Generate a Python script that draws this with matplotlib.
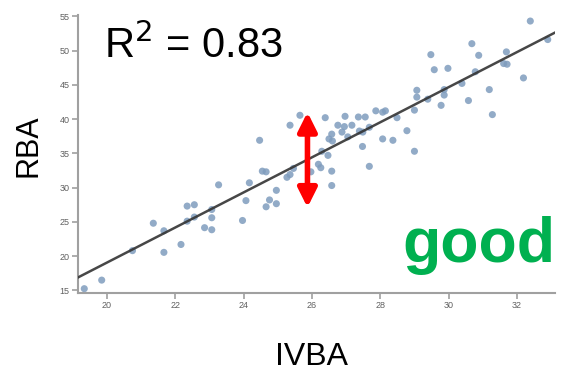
import numpy as np
from matplotlib import pyplot as plt

plt.rcParams['font.family'] = ['Liberation Sans', 'DejaVu Sans']

# scatter data
ivba = [19.34, 19.85, 20.75, 21.36, 21.67, 21.67, 22.17, 22.35, 22.35, 22.56,
        22.56, 22.86, 23.07, 23.07, 23.07, 23.27, 23.97, 24.07, 24.17, 24.55,
        24.66, 24.66, 24.76, 24.96, 24.96, 25.27, 25.36, 25.46, 24.47, 25.36,
        25.65, 26.39, 25.97, 26.19, 26.26, 26.58, 26.58, 26.47, 26.29, 26.50,
        26.58, 26.60, 26.76, 26.97, 26.95, 27.17, 26.88, 27.36, 27.56, 27.39,
        27.49, 27.68, 27.48, 27.68, 27.87, 28.07, 28.15, 28.07, 28.37, 27.05,
        28.49, 28.78, 29.00, 29.00, 29.07, 29.07, 29.39, 29.48, 29.58, 29.78,
        29.87, 29.87, 29.98, 30.39, 30.58, 30.68, 30.78, 30.88, 31.19, 31.28,
        31.61, 31.71, 31.69, 32.19, 32.39, 32.90]
rba  = [15.25, 16.5, 20.8, 24.8, 23.7, 20.55, 21.7, 27.3, 25.1, 27.5,
        25.7, 24.15, 26.8, 25.6, 23.85, 30.4, 25.2, 28.1, 30.7, 32.4,
        32.3, 27.2, 28.2, 29.6, 27.65, 31.5, 31.9, 32.8, 36.9, 39.1,
        40.55, 40.2, 32.3, 33.4, 32.9, 32.4, 30.3, 34.7, 35.3, 37.1,
        37.8, 36.8, 39.1, 40.4, 38.9, 39.1, 38.1, 40.3, 40.3, 38.25,
        38.1, 38.8, 36.0, 33.1, 41.2, 41.0, 41.2, 37.1, 36.9, 37.4,
        40.2, 38.3, 41.3, 35.3, 43.2, 44.2, 42.9, 49.4, 47.2, 42.0,
        43.5, 44.3, 47.4, 45.2, 42.7, 51.0, 46.9, 49.3, 44.3, 40.65,
        48.1, 48.0, 49.8, 46.0, 54.3, 51.6]

fit_slope     = 2.56
fit_intercept = -32.15
r2            = 0.83
arrow_x       = 25.87
arrow_y       = (27.1, 41.0)

xlim = (19.16, 33.12)
ylim = (14.6, 55.2)


fig = plt.figure(figsize=(5.62, 3.72), dpi=100)
ax  = fig.add_axes([0.139, 0.212, 0.849, 0.748])

ax.scatter(ivba, rba, s=26, color='#7f9cbd', alpha=0.85, edgecolors='none', zorder=2)

xl = np.array(xlim)
ax.plot(xl, fit_intercept + fit_slope*xl, color='#333333', lw=1.8, alpha=0.9, zorder=3)

ax.annotate('', xy=(arrow_x, arrow_y[0]), xytext=(arrow_x, arrow_y[1]),
            arrowprops=dict(arrowstyle='<|-|>', color='red', lw=4, mutation_scale=28,
                            shrinkA=0, shrinkB=0), zorder=4)

ax.set_xlim(*xlim)
ax.set_ylim(*ylim)
ax.set_xticks(np.arange(20, 33, 2))
ax.set_yticks(np.arange(15, 56, 5))
ax.spines[['top', 'right']].set_visible(False)
for s in ['left', 'bottom']:
    ax.spines[s].set_color('#a0a0a0')
    ax.spines[s].set_linewidth(1.5)
ax.tick_params(length=4, width=1.2, color='#a0a0a0', labelsize=6.5,
               labelcolor='#606060', pad=2)

ax.set_xlabel('IVBA', fontsize=23)
ax.set_ylabel('RBA', fontsize=22)
ax.xaxis.set_label_coords(0.49, -0.175)
ax.yaxis.set_label_coords(-0.073, 0.53)

ax.text(0.055, 0.89, f'R$^2$ = {r2:.2f}', transform=ax.transAxes,
        fontsize=30, va='center', ha='left')
ax.text(1.0, 0.17, 'good', transform=ax.transAxes, fontsize=45,
        fontweight='bold', color='#00b050', va='center', ha='right')

plt.savefig('out.png', dpi=100)
